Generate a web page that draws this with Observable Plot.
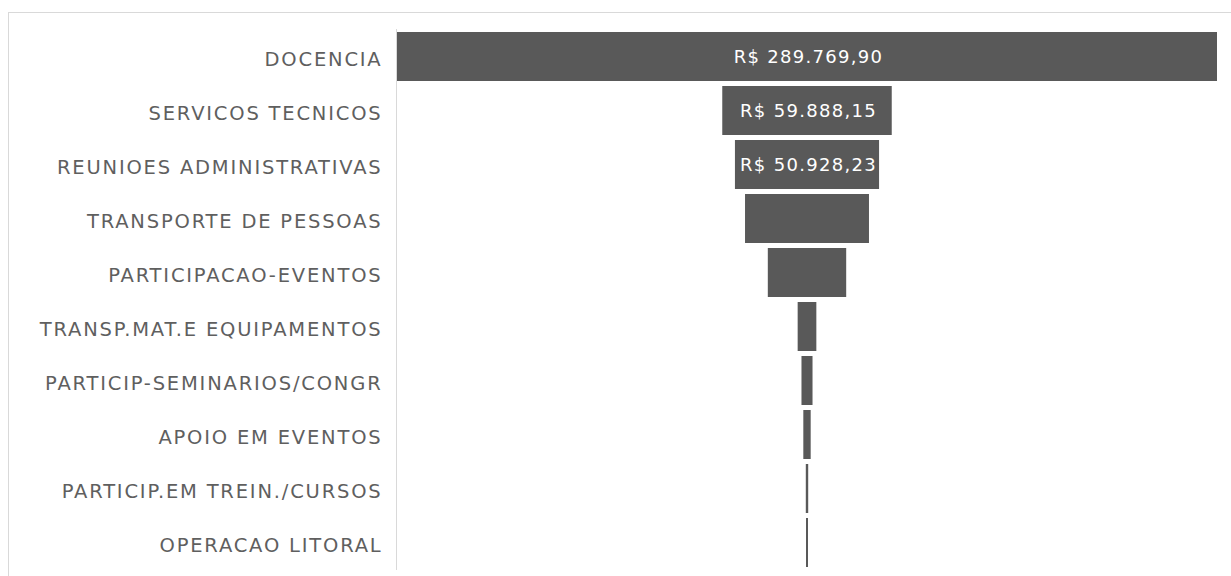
<!DOCTYPE html>
<html>
<head>
<meta charset="utf-8">
<script src="https://cdn.jsdelivr.net/npm/d3@7"></script>
<script src="https://cdn.jsdelivr.net/npm/@observablehq/plot@0.6"></script>
<style>
  html, body { margin: 0; padding: 0; background: #fff; }
  #wrap { position: relative; width: 1231px; height: 576px; overflow: hidden; }
  #border { position: absolute; left: 8px; top: 12px; right: -2px; bottom: -2px;
            border-left: 1px solid #d9d9d9; border-top: 1px solid #d9d9d9; }
  #chart { position: absolute; left: 0; top: 0; }
  .funnel g[aria-label="y-axis tick label"] text { letter-spacing: 1.8px; }
  .funnel g[aria-label="text"] text { letter-spacing: 1.3px; }
</style>
</head>
<body>
<div id="wrap"><div id="border"></div><div id="chart"></div></div>
<script>
const categories = [
  "DOCENCIA",
  "SERVICOS TECNICOS",
  "REUNIOES ADMINISTRATIVAS",
  "TRANSPORTE DE PESSOAS",
  "PARTICIPACAO-EVENTOS",
  "TRANSP.MAT.E EQUIPAMENTOS",
  "PARTICIP-SEMINARIOS/CONGR",
  "APOIO EM EVENTOS",
  "PARTICIP.EM TREIN./CURSOS",
  "OPERACAO LITORAL"
];
const values = [289769.90, 59888.15, 50928.23, 43800, 27700, 6600, 3900, 2600, 850, 700];
const labelled = ["DOCENCIA", "SERVICOS TECNICOS", "REUNIOES ADMINISTRATIVAS"];

const data = categories.map((c, i) => ({category: c, value: values[i]}));
const maxV = d3.max(values);

const ptBR = d3.formatLocale({decimal: ",", thousands: ".", grouping: [3], currency: ["R$ ", ""]});
const fmt = ptBR.format("$,.2f");

const chart = Plot.plot({
  className: "funnel",
  width: 1231,
  height: 576,
  marginTop: 29,
  marginBottom: 6,
  marginLeft: 397,
  marginRight: 14,
  style: {fontFamily: "'DejaVu Sans', sans-serif", background: "transparent"},
  x: {domain: [-maxV / 2, maxV / 2], axis: null},
  y: {domain: categories, paddingInner: 0.09, paddingOuter: 0.04, label: null},
  marks: [
    Plot.ruleX([-maxV / 2], {stroke: "#d9d9d9", strokeWidth: 1, dx: -1}),
    Plot.barX(data, {x1: d => -d.value / 2, x2: d => d.value / 2, y: "category", fill: "#595959"}),
    Plot.text(data.filter(d => labelled.includes(d.category)), {
      x: 0, y: "category", text: d => fmt(d.value), fill: "white", fontSize: 18, dx: 1
    }),
    Plot.axisY({tickSize: 0, tickPadding: 15, fontSize: 19.5, fill: "#5f5f5f", label: null, dy: 3})
  ]
});
document.getElementById("chart").appendChild(chart);
</script>
</body>
</html>
